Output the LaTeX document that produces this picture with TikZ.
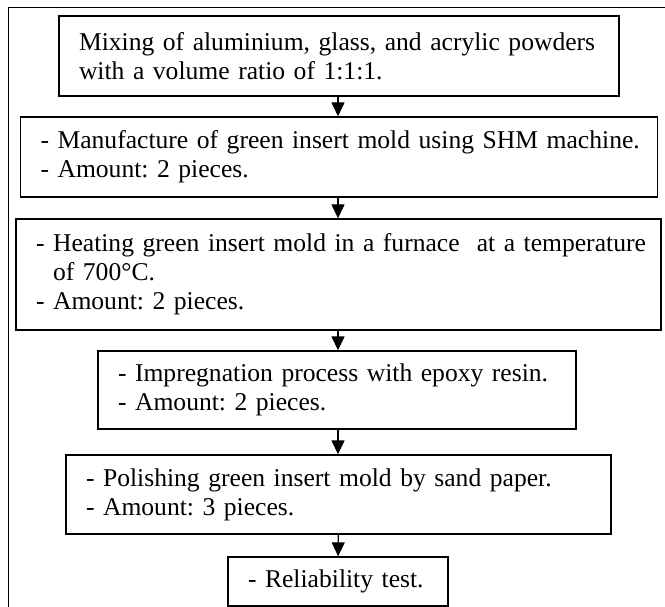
\documentclass[tikz,border=0pt]{standalone}
\usepackage{fontspec}
\setmainfont{Liberation Serif}
\usetikzlibrary{arrows.meta}
\newcommand{\onelinebox}[1]{\mbox{#1}}
\frenchspacing
\begin{document}
\begin{tikzpicture}[x=1pt,y=-1pt,
  stepbox/.style={draw, line width=1.4pt, align=left, inner xsep=20pt, inner ysep=0pt,
    font=\fontsize{25.6}{29}\selectfont\frenchspacing, anchor=center},
  flow/.style={-{Triangle[length=14pt,width=13pt]}, line width=1.4pt},
  frameline/.style={line width=1.6pt}]
\useasboundingbox (0,0) rectangle (665,607);
\coordinate (fb) at (8.5,607);
\coordinate (fc) at (8.5,7.5);
\coordinate (fr) at (665,7.5);
\draw[frameline] (fb) -- (fc) -- (fr);
\node[stepbox, text width=520pt, minimum height=80pt] (b1) at (339,56)
  {\onelinebox{Mixing of aluminium, glass, and acrylic powders}\\\onelinebox{with a volume ratio of 1:1:1.}};
\node[stepbox, text width=597pt, minimum height=80pt] (b2) at (339,157)
  {\onelinebox{- Manufacture of green insert mold using SHM machine.}\\\onelinebox{- Amount: 2 pieces.}};
\node[stepbox, text width=605pt, minimum height=111pt] (b3) at (338.5,274.5)
  {\onelinebox{- Heating green insert mold in a furnace~ at a temperature}\\\onelinebox{\hphantom{- }of 700°C.}\\\onelinebox{- Amount: 2 pieces.}};
\node[stepbox, text width=438pt, minimum height=78pt] (b4) at (337,390)
  {\onelinebox{- Impregnation process with epoxy resin.}\\\onelinebox{- Amount: 2 pieces.}};
\node[stepbox, text width=505pt, minimum height=79pt] (b5) at (338.5,494.5)
  {\onelinebox{- Polishing green insert mold by sand paper.}\\\onelinebox{- Amount: 3 pieces.}};
\node[stepbox, text width=180pt, minimum height=49pt] (b6) at (338,581.5)
  {\onelinebox{- Reliability test.}};
\draw[flow] (b1.south -| b6) -- (b2.north -| b6);
\draw[flow] (b2.south -| b6) -- (b3.north -| b6);
\draw[flow] (b3.south -| b6) -- (b4.north -| b6);
\draw[flow] (b4.south -| b6) -- (b5.north -| b6);
\draw[flow] (b5) -- (b6);
\end{tikzpicture}
\end{document}
